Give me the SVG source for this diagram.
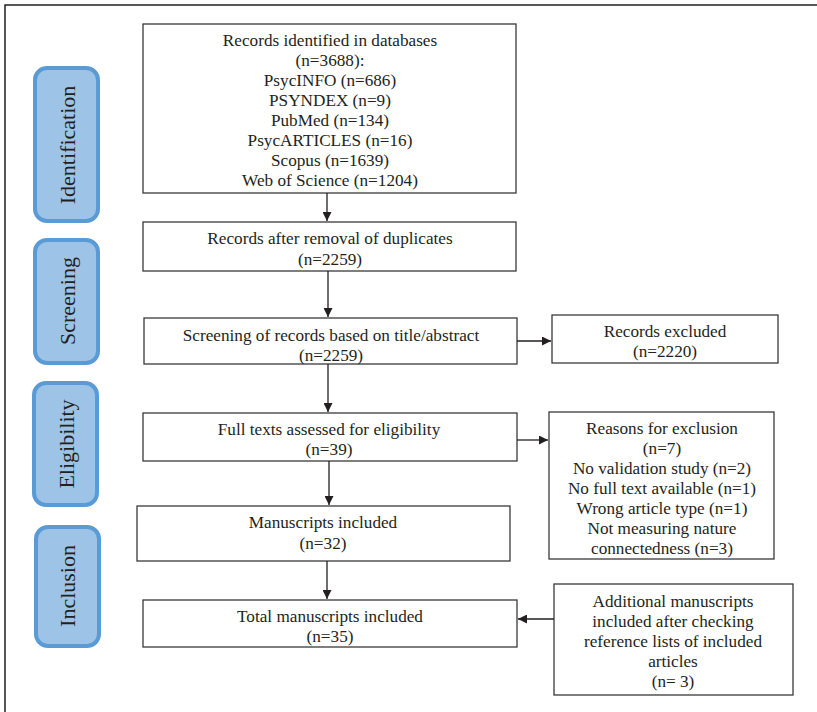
<svg xmlns="http://www.w3.org/2000/svg" width="817" height="712" viewBox="0 0 817 712">
<style>
.bx{fill:#fff;stroke:#3a3a3a;stroke-width:1.3}
.t{font-family:"Liberation Serif","Times New Roman",Times,serif;font-size:17.2px;fill:#231f20;text-anchor:middle}
.pill{fill:#9dc3e6;stroke:#5b9bd5;stroke-width:4}
.pt{font-family:"Liberation Serif","Times New Roman",Times,serif;font-size:22px;fill:#231f20;text-anchor:middle;dominant-baseline:central}
.ln{stroke:#231f20;stroke-width:1.3;fill:none}
</style>
<defs>
<marker id="ah" viewBox="0 0 10 10" refX="10" refY="5" markerWidth="9" markerHeight="9" markerUnits="userSpaceOnUse" orient="auto">
<path d="M0,0 L10,5 L0,10 z" fill="#231f20"/>
</marker>
</defs>
<rect width="817" height="712" fill="#fff"/>
<path d="M5,712 V5 H817" stroke="#231f20" stroke-width="1.5" fill="none"/>

<g id="stage-identification"><rect class="pill" x="35" y="68" width="63" height="153" rx="12"/><text class="pt" transform="translate(67,145) rotate(-90)">Identification</text></g>
<g id="stage-screening"><rect class="pill" x="35" y="240" width="63" height="123" rx="12"/><text class="pt" transform="translate(67,301) rotate(-90)">Screening</text></g>
<g id="stage-eligibility"><rect class="pill" x="34" y="383" width="63" height="122" rx="12"/><text class="pt" transform="translate(66,444) rotate(-90)">Eligibility</text></g>
<g id="stage-inclusion"><rect class="pill" x="36" y="527" width="63" height="119" rx="12"/><text class="pt" transform="translate(67,586) rotate(-90)">Inclusion</text></g>

<g id="n-identified"><rect class="bx" x="143" y="24" width="373" height="169"/>
<text class="t" x="330" y="46">Records identified in databases</text>
<text class="t" x="330" y="66">(n=3688):</text>
<text class="t" x="330" y="86">PsycINFO (n=686)</text>
<text class="t" x="330" y="106">PSYNDEX (n=9)</text>
<text class="t" x="330" y="126">PubMed (n=134)</text>
<text class="t" x="330" y="146">PsycARTICLES (n=16)</text>
<text class="t" x="330" y="166">Scopus (n=1639)</text>
<text class="t" x="330" y="186">Web of Science (n=1204)</text></g>

<g id="n-dedup"><rect class="bx" x="143" y="222" width="373" height="49"/>
<text class="t" x="330" y="244">Records after removal of duplicates</text>
<text class="t" x="330" y="265">(n=2259)</text></g>

<g id="n-screening"><rect class="bx" x="144" y="318" width="373" height="46"/>
<text class="t" x="331" y="341">Screening of records based on title/abstract</text>
<text class="t" x="331" y="361">(n=2259)</text></g>

<g id="n-excluded"><rect class="bx" x="552" y="315" width="226" height="48"/>
<text class="t" x="665" y="337">Records excluded</text>
<text class="t" x="665" y="357">(n=2220)</text></g>

<g id="n-fulltext"><rect class="bx" x="143" y="413" width="374" height="48"/>
<text class="t" x="329" y="435">Full texts assessed for eligibility</text>
<text class="t" x="329" y="455">(n=39)</text></g>

<g id="n-reasons"><rect class="bx" x="549" y="412" width="225" height="147"/>
<text class="t" x="662" y="434">Reasons for exclusion</text>
<text class="t" x="662" y="454">(n=7)</text>
<text class="t" x="662" y="474">No validation study (n=2)</text>
<text class="t" x="662" y="494">No full text available (n=1)</text>
<text class="t" x="662" y="514">Wrong article type (n=1)</text>
<text class="t" x="662" y="534">Not measuring nature</text>
<text class="t" x="662" y="554">connectedness (n=3)</text></g>

<g id="n-manuscripts"><rect class="bx" x="137" y="506" width="373" height="55"/>
<text class="t" x="323" y="528">Manuscripts included</text>
<text class="t" x="323" y="549">(n=32)</text></g>

<g id="n-total"><rect class="bx" x="143" y="600" width="374" height="47"/>
<text class="t" x="330" y="622">Total manuscripts included</text>
<text class="t" x="330" y="642">(n=35)</text></g>

<g id="n-additional"><rect class="bx" x="554" y="584" width="239" height="111"/>
<text class="t" x="673" y="607">Additional manuscripts</text>
<text class="t" x="673" y="627">included after checking</text>
<text class="t" x="673" y="647">reference lists of included</text>
<text class="t" x="673" y="667">articles</text>
<text class="t" x="673" y="687">(n= 3)</text></g>

<g id="connectors">
<line class="ln" x1="327" y1="193" x2="327" y2="221" marker-end="url(#ah)"/>
<line class="ln" x1="328" y1="271" x2="328" y2="317" marker-end="url(#ah)"/>
<line class="ln" x1="328" y1="364" x2="328" y2="412" marker-end="url(#ah)"/>
<line class="ln" x1="329" y1="461" x2="329" y2="505" marker-end="url(#ah)"/>
<line class="ln" x1="327" y1="561" x2="327" y2="599" marker-end="url(#ah)"/>
<line class="ln" x1="517" y1="341" x2="551" y2="341" marker-end="url(#ah)"/>
<line class="ln" x1="517" y1="440" x2="548" y2="440" marker-end="url(#ah)"/>
<line class="ln" x1="554" y1="619" x2="518" y2="619" marker-end="url(#ah)"/>
</g>
</svg>
